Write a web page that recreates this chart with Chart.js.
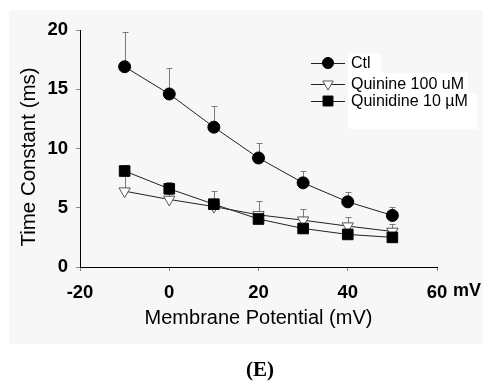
<!DOCTYPE html>
<html>
<head>
<meta charset="utf-8">
<script src="https://cdn.jsdelivr.net/npm/chart.js@4.4.1/dist/chart.umd.min.js"></script>
<style>
  html, body { margin: 0; padding: 0; background: #fff; }
  #wrap { width: 483px; height: 382px; }
</style>
</head>
<body>
<div id="wrap"><canvas id="chart" width="483" height="382"></canvas></div>
<script>
// ------------------------------------------------------------
// Data (time constant vs membrane potential)
// ------------------------------------------------------------
const potentials = [-10, 0, 10, 20, 30, 40, 50];

const ctlMean = [16.9, 14.6, 11.8, 9.2, 7.1, 5.5, 4.35];
const ctlUpper = [19.8, 16.8, 13.6, 10.5, 8.1, 6.3, 5.1];

const quinineMean = [6.4, 5.7, 5.1, 4.4, 3.95, 3.45, 3.0];
const quinineUpper = [7.7, 6.2, 6.4, 5.55, 4.9, 4.2, 3.65];

const quinidineMean = [8.1, 6.6, 5.3, 4.05, 3.25, 2.75, 2.5];
const quinidineUpper = [8.6, 7.15, 5.6, 4.4, 3.5, 3.0, 2.75];

const xTicks = [-20, 0, 20, 40, 60];
const yTicks = [0, 5, 10, 15, 20];

const seriesNames = ['Ctl', 'Quinine 100 uM', 'Quinidine 10 \u00b5M'];

const SANS = '"Liberation Sans", Arial, sans-serif';

function toPoints(ys) {
  return potentials.map((x, i) => ({ x, y: ys[i] }));
}

// panel background + legend boxes + stray labels
const backdrop = {
  id: 'backdrop',
  beforeDraw(chart) {
    const c = chart.ctx;
    c.save();
    c.fillStyle = '#fff';
    c.fillRect(0, 0, chart.width, chart.height);
    c.fillStyle = '#f7f7f7';
    c.fillRect(9, 10, chart.width - 9, 334);
    // white patches behind the legend text
    c.fillStyle = '#fff';
    c.fillRect(348, 53, 33, 22);
    c.fillRect(348, 73, 120, 22);
    c.fillRect(348, 93, 129, 36);
    c.restore();
  },
  afterDraw(chart) {
    const c = chart.ctx;
    const xs = chart.scales.x;
    c.save();
    c.fillStyle = '#000';
    c.textBaseline = 'middle';
    c.textAlign = 'left';
    c.font = 'bold 18px ' + SANS;
    c.fillText('mV', xs.getPixelForValue(60) + 16, 291);
    c.textAlign = 'center';
    c.font = 'bold 21px "Liberation Serif", "Times New Roman", serif';
    c.fillText('(E)', 260, 371);
    // y axis title, sits a little below the axis centre in the original
    c.translate(29, 157);
    c.rotate(-Math.PI / 2);
    c.font = '20.5px ' + SANS;
    c.fillText('Time Constant (ms)', 0, 0);
    c.restore();
  }
};

// upper error bars, drawn under the markers
const errorBars = {
  id: 'errorBars',
  beforeDatasetsDraw(chart) {
    const c = chart.ctx;
    const xs = chart.scales.x, ys = chart.scales.y;
    const uppers = [ctlUpper, quinineUpper, quinidineUpper];
    const means = [ctlMean, quinineMean, quinidineMean];
    c.save();
    c.strokeStyle = '#7a7a7a';
    c.lineWidth = 1;
    uppers.forEach((up, s) => {
      up.forEach((u, i) => {
        const px = Math.round(xs.getPixelForValue(potentials[i])) + 0.5;
        const py0 = ys.getPixelForValue(means[s][i]);
        const py1 = Math.round(ys.getPixelForValue(u)) + 0.5;
        c.beginPath();
        c.moveTo(px, py0);
        c.lineTo(px, py1);
        c.moveTo(px - 3, py1);
        c.lineTo(px + 3, py1);
        c.stroke();
      });
    });
    c.restore();
  }
};

// legend: line sample with marker, like the original plot
const lineLegend = {
  id: 'lineLegend',
  afterDraw(chart) {
    const c = chart.ctx;
    const rows = [63, 84, 101];
    c.save();
    chart.data.datasets.forEach((ds, i) => {
      const y = rows[i];
      c.strokeStyle = '#222';
      c.lineWidth = 1;
      c.beginPath();
      c.moveTo(311, y + 0.5);
      c.lineTo(345, y + 0.5);
      c.stroke();
      c.fillStyle = ds.pointBackgroundColor;
      c.strokeStyle = ds.pointBorderColor;
      Chart.helpers.drawPoint(c, {
        pointStyle: ds.pointStyle,
        radius: ds.pointRadius - 0.5,
        rotation: ds.pointRotation || 0,
        borderWidth: 1
      }, 328, y);
      c.fillStyle = '#000';
      c.font = '16px ' + SANS;
      c.textAlign = 'left';
      c.textBaseline = 'middle';
      c.fillText(seriesNames[i], 351, y + 1);
    });
    c.restore();
  }
};

new Chart(document.getElementById('chart'), {
  type: 'line',
  data: {
    datasets: [
      {
        label: seriesNames[0],
        data: toPoints(ctlMean),
        borderColor: '#222',
        borderWidth: 1,
        pointStyle: 'circle',
        pointRadius: 6,
        pointBackgroundColor: '#000',
        pointBorderColor: '#000',
        order: 1
      },
      {
        label: seriesNames[1],
        data: toPoints(quinineMean),
        borderColor: '#222',
        borderWidth: 1,
        pointStyle: 'triangle',
        pointRotation: 180,
        pointRadius: 6.5,
        pointBackgroundColor: '#fff',
        pointBorderColor: '#555',
        pointBorderWidth: 1,
        order: 3
      },
      {
        label: seriesNames[2],
        data: toPoints(quinidineMean),
        borderColor: '#222',
        borderWidth: 1,
        pointStyle: 'rect',
        pointRadius: 7.5,
        pointBackgroundColor: '#000',
        pointBorderColor: '#000',
        order: 2
      }
    ]
  },
  options: {
    responsive: false,
    animation: false,
    layout: { padding: { left: 0, top: 30, right: 46, bottom: 48 } },
    plugins: { legend: { display: false }, tooltip: { enabled: false } },
    elements: { line: { tension: 0 } },
    scales: {
      x: {
        type: 'linear',
        min: -20,
        max: 60,
        afterFit(scale) { scale.height = 67; },
        afterBuildTicks(scale) { scale.ticks = xTicks.map(v => ({ value: v })); },
        border: { display: true, color: '#000', width: 1 },
        grid: { drawOnChartArea: false, drawTicks: true, tickLength: 4, color: '#888' },
        ticks: {
          color: '#000',
          padding: 11,
          maxRotation: 0,
          font: { family: SANS, size: 18.5, weight: 'bold' }
        },
        title: {
          display: true,
          text: 'Membrane Potential (mV)',
          color: '#000',
          font: { family: SANS, size: 20 },
          padding: { top: 0, bottom: 4 }
        }
      },
      y: {
        min: 0,
        max: 20,
        afterFit(scale) { scale.width = 80; },
        afterBuildTicks(scale) { scale.ticks = yTicks.map(v => ({ value: v })); },
        border: { display: true, color: '#000', width: 1 },
        grid: { drawOnChartArea: false, drawTicks: true, tickLength: 4, color: '#888' },
        ticks: {
          color: '#000',
          padding: 8,
          font: { family: SANS, size: 18.5, weight: 'bold' }
        },
        title: { display: false }
      }
    }
  },
  plugins: [backdrop, errorBars, lineLegend]
});
</script>
</body>
</html>
